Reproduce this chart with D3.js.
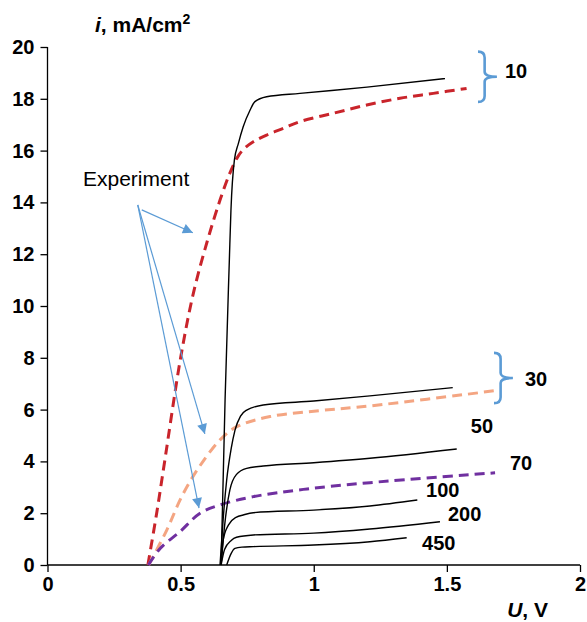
<!DOCTYPE html>
<html><head><meta charset="utf-8">
<script src="https://cdn.jsdelivr.net/npm/d3@7"></script>
<style>body{margin:0;background:#fff}svg{display:block}text{font-family:"Liberation Sans",Arial,sans-serif}</style>
</head><body><svg id="c" width="587" height="622"></svg>
<script>
// ---- data (U in V, i in mA/cm2) ----
const xTicks = [0, 0.5, 1, 1.5, 2];
const yTicks = [0, 2, 4, 6, 8, 10, 12, 14, 16, 18, 20];
const sim10  = [[0.652,0],[0.667,6.4],[0.683,11.78],[0.689,13.7],[0.702,15.64],[0.717,16.28],[0.735,16.92],[0.761,17.57],[0.779,17.89],[0.823,18.08],[0.948,18.21],[1.2,18.45],[1.493,18.78]];
const sim30  = [[0.648,0],[0.66,1.8],[0.673,3.28],[0.69,4.5],[0.704,5.2],[0.725,5.75],[0.748,5.98],[0.81,6.18],[1.0,6.33],[1.211,6.53],[1.522,6.85]];
const sim50  = [[0.652,0],[0.665,1.5],[0.685,2.9],[0.71,3.5],[0.748,3.73],[0.81,3.82],[1.0,3.95],[1.211,4.12],[1.537,4.48]];
const sim100 = [[0.652,0],[0.66,0.97],[0.68,1.55],[0.71,1.85],[0.735,1.93],[0.773,2.02],[1.0,2.12],[1.211,2.28],[1.389,2.51]];
const sim200 = [[0.652,0],[0.665,0.6],[0.69,0.95],[0.71,1.07],[0.773,1.16],[1.0,1.23],[1.211,1.39],[1.474,1.67]];
const sim450 = [[0.673,0],[0.69,0.45],[0.704,0.64],[0.73,0.69],[0.773,0.71],[1.0,0.77],[1.211,0.9],[1.349,1.05]];
const exp10  = [[0.377,0],[0.41,2],[0.44,4],[0.5,8],[0.548,10.5],[0.6,12.5],[0.648,14.09],[0.685,15.13],[0.711,15.7],[0.735,16.04],[0.773,16.34],[0.823,16.6],[0.886,16.86],[0.948,17.12],[1.073,17.44],[1.199,17.76],[1.324,18.02],[1.449,18.21],[1.574,18.4]];
const exp30  = [[0.38,0],[0.448,1.35],[0.504,2.64],[0.566,3.73],[0.648,4.83],[0.711,5.34],[0.836,5.73],[1.023,5.96],[1.211,6.14],[1.681,6.73]];
const exp70  = [[0.379,0],[0.423,0.64],[0.498,1.29],[0.573,2.0],[0.648,2.32],[0.773,2.64],[0.961,2.92],[1.211,3.18],[1.681,3.56]];
const seriesLabels = ["10","30","50","70","100","200","450"];
const labelPos = [[1.718,19.0],[1.793,7.1],[1.59,5.29],[1.737,3.86],[1.422,2.82],[1.504,1.9],[1.407,0.8]];

const margin = {left:47.5, right:7, top:47, bottom:57};
const W = 587, H = 622;
const svg = d3.select("#c");
const x = d3.scaleLinear().domain([0,2]).range([margin.left, W-margin.right]);
const y = d3.scaleLinear().domain([0,20]).range([H-margin.bottom, margin.top]);

// axes
const xa = svg.append("g").attr("transform",`translate(0,${y(0)})`)
  .call(d3.axisBottom(x).tickValues(xTicks).tickFormat(d=>String(d)).tickSize(7).tickPadding(5));
const ya = svg.append("g").attr("transform",`translate(${x(0)},0)`)
  .call(d3.axisLeft(y).tickValues(yTicks).tickFormat(d=>String(d)).tickSize(7).tickPadding(6));
[xa,ya].forEach(a=>{
  a.selectAll("path,line").attr("stroke","#000").attr("stroke-width",1.3);
  a.select(".domain").attr("d", a===xa ? `M${x(0)},0H${x(2)}` : `M0,${y(0)}V${y(20)}`);
  a.selectAll("text").attr("font-size",20).attr("font-weight","bold").attr("fill","#000")
   .style("font-family",'"Liberation Sans",Arial,sans-serif');
});

const smooth = d3.line().x(d=>x(d[0])).y(d=>y(d[1])).curve(d3.curveCatmullRom.alpha(0.5));
const line = d3.line().x(d=>x(d[0])).y(d=>y(d[1])).curve(d3.curveMonotoneX);
const g = svg.append("g");
[exp10, exp30, exp70].forEach((s,k)=>{
  g.append("path").attr("d",smooth(s)).attr("fill","none")
   .attr("stroke",["#c9242b","#f4a582","#7030a0"][k]).attr("stroke-width",3)
   .attr("stroke-dasharray","10,6");
});
[sim10, sim30, sim50, sim100, sim200, sim450].forEach(s=>{
  g.append("path").attr("d",line(s)).attr("fill","none").attr("stroke","#000").attr("stroke-width",1.4);
});

// series labels
seriesLabels.forEach((t,k)=>{
  svg.append("text").attr("x",x(labelPos[k][0])).attr("y",y(labelPos[k][1]))
    .attr("dominant-baseline","middle").attr("font-size",20).attr("font-weight","bold").text(t);
});

// braces
const blue = "#5b9bd5";
function brace(x0, yTop, yBot, xTip){
  const X0=x(x0), Y0=y(yTop), Y1=y(yBot), XT=x(xTip), ym=(Y0+Y1)/2, xm=X0+ (XT-X0)*0.35;
  const p = `M${X0},${Y0} Q${xm},${Y0} ${xm},${Y0+6} L${xm},${ym-5} Q${xm},${ym} ${XT},${ym} Q${xm},${ym} ${xm},${ym+5} L${xm},${Y1-6} Q${xm},${Y1} ${X0},${Y1}`;
  svg.append("path").attr("d",p).attr("fill","none").attr("stroke",blue).attr("stroke-width",2.6);
}
brace(1.617, 19.82, 17.88, 1.688);
brace(1.677, 8.19, 6.25, 1.748);

// arrows
const defs = svg.append("defs");
defs.append("marker").attr("id","ah").attr("viewBox","0 0 10 10").attr("refX",10).attr("refY",5)
  .attr("markerWidth",12).attr("markerHeight",10).attr("markerUnits","userSpaceOnUse").attr("orient","auto")
  .append("path").attr("d","M0,0L10,5L0,10Z").attr("fill",blue);
const arrows = [[[0.354,13.71],[0.546,12.83]],[[0.339,13.9],[0.591,5.06]],[[0.339,13.9],[0.569,2.2]]];
arrows.forEach(a=>{
  svg.append("line").attr("x1",x(a[0][0])).attr("y1",y(a[0][1])).attr("x2",x(a[1][0])).attr("y2",y(a[1][1]))
    .attr("stroke",blue).attr("stroke-width",1.2).attr("marker-end","url(#ah)");
});
svg.append("text").attr("x",83).attr("y",180).attr("dominant-baseline","middle")
  .attr("font-size",21).text("Experiment");

// axis titles
const yt = svg.append("text").attr("x",95).attr("y",32).attr("font-size",21).attr("font-weight","bold");
yt.append("tspan").attr("font-style","italic").text("i");
yt.append("tspan").text(", mA/cm");
yt.append("tspan").attr("font-size",14).attr("dy",-8).text("2");
const xt = svg.append("text").attr("x",548).attr("y",617).attr("text-anchor","end").attr("font-size",21).attr("font-weight","bold");
xt.append("tspan").attr("font-style","italic").text("U");
xt.append("tspan").text(", V");
</script></body></html>
